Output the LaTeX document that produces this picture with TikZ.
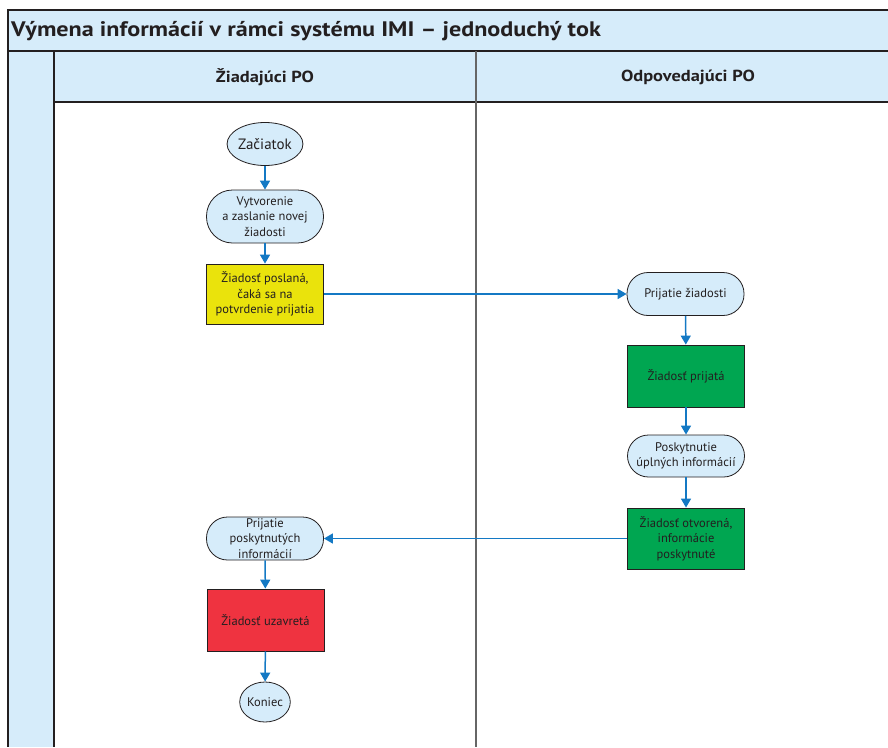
\documentclass[tikz,border=0pt]{standalone}
\usepackage{fontspec}
\setmainfont{PT Sans}
\newfontfamily\headfont[FakeStretch=1.15]{PT Sans Bold}
\usetikzlibrary{arrows.meta,shapes.geometric}
\definecolor{lblue}{HTML}{D6ECFA}
\definecolor{fyellow}{HTML}{EAE30C}
\definecolor{fgreen}{HTML}{00A651}
\definecolor{fred}{HTML}{EF3340}
\definecolor{ablue}{HTML}{1479C4}
\definecolor{edge}{HTML}{231F20}
\tikzset{
  base/.style={draw=edge, line width=0.8pt, inner sep=0pt, align=center,
    font=\fontsize{12.5}{15.5}\selectfont, text=edge},
  term/.style={base, ellipse, fill=lblue},
  proc/.style={base, rectangle, fill=lblue, minimum width=117pt, rounded corners=21pt},
  stat/.style={base, rectangle, minimum width=117pt},
  flow/.style={draw=ablue, line width=1.5pt, -{Triangle[width=10pt,length=9pt]}},
  frame/.style={draw=edge, line width=1.4pt},
  head/.style={font=\headfont\fontsize{16}{18}\selectfont, text=edge},
}
\begin{document}
\begin{tikzpicture}[x=1pt,y=-1pt]
\useasboundingbox (0,0) rectangle (888,747);
% fills
\fill[lblue] (8,10) rectangle (888,51);
\fill[lblue] (54,51) rectangle (888,102);
\fill[lblue] (8,51) rectangle (54,747);
% lines
\draw[frame] (888,10) -- (8,10) -- (8,747);
\draw[draw=edge, line width=2pt] (8,51) -- (888,51);
\draw[frame] (54,51) -- (54,747);
\draw[frame] (54,102) -- (888,102);
\draw[draw=gray!80!black, line width=1.4pt] (476,51) -- (476,747);
% texts
\node[anchor=west, font=\headfont\fontsize{21}{24}\selectfont, text=edge, inner sep=0pt] (title) at (11,31) {Výmena informácií v rámci systému IMI – jednoduchý tok};
\node[head] (h1) at (265,77) {Žiadajúci PO};
\node[head] (h2) at (688,77) {Odpovedajúci PO};
% nodes
\node[term, minimum width=59pt, minimum height=43pt, font=\fontsize{15}{17}\selectfont] (zac) at (265,144) {Začiatok};
\node[proc, minimum height=53pt, rounded corners=26pt] (vyt) at (265,216.5) {Vytvorenie\\a zaslanie novej\\žiadosti};
\node[stat, fill=fyellow, minimum height=60pt] (yel) at (265,294) {Žiadosť poslaná,\\čaká sa na\\potvrdenie prijatia};
\node[proc, minimum height=43pt] (prz) at (685.5,294) {Prijatie žiadosti};
\node[stat, fill=fgreen, minimum height=62pt] (g1) at (686,376) {Žiadosť prijatá};
\node[proc, minimum height=42pt] (pos) at (686,456) {Poskytnutie\\úplných informácií};
\node[stat, fill=fgreen, minimum height=61pt] (g2) at (686,538.5) {Žiadosť otvorená,\\informácie\\poskytnuté};
\node[proc, minimum height=43pt] (ppi) at (265,538.5) {Prijatie\\poskytnutých\\informácií};
\node[stat, fill=fred, minimum height=62pt] (red) at (265.5,620) {Žiadosť uzavretá};
\node[term, minimum width=48pt, minimum height=40pt] (kon) at (265,702) {Koniec};
% connectors
\draw[flow] (zac) -- (vyt);
\draw[flow] (vyt) -- (yel);
\draw[flow] (yel) -- (prz);
\draw[flow] (prz) -- (g1);
\draw[flow] (g1) -- (pos);
\draw[flow] (pos) -- (g2);
\draw[flow] (g2) -- (ppi);
\draw[flow] (ppi) -- (red);
\draw[flow] (red) -- (kon);
\end{tikzpicture}
\end{document}
